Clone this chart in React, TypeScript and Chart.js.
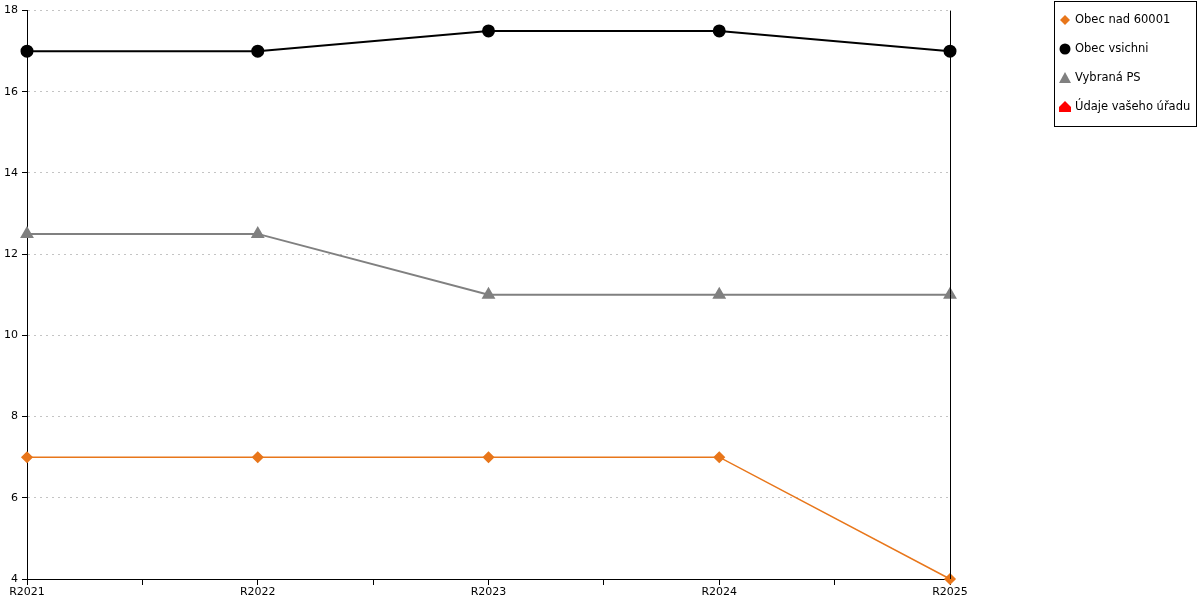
import React, { useEffect, useRef } from "react";
import { Chart, registerables } from "chart.js";

Chart.register(...registerables);

const categories = ["R2021", "R2022", "R2023", "R2024", "R2025"];
const obecNad60001 = [7, 7, 7, 7, 4];
const obecVsichni = [17, 17, 17.5, 17.5, 17];
const vybranaPS = [12.5, 12.5, 11, 11, 11];
const udajeUradu: (number | null)[] = [null, null, null, null, null];
const legendLabels = ["Obec nad 60001", "Obec vsichni", "Vybraná PS", "Údaje vašeho úřadu"];

const FONT = "'DejaVu Sans', Verdana, sans-serif";

function toPoints(vals: (number | null)[]) {
  return vals.map((v, i) => ({ x: i, y: v }));
}

const frame = {
  id: "frame",
  afterDatasetsDraw(chart: any) {
    const { ctx, chartArea } = chart;
    ctx.save();
    ctx.strokeStyle = "#000";
    ctx.lineWidth = 1;
    ctx.beginPath();
    ctx.moveTo(Math.round(chartArea.right) + 0.5, chartArea.top);
    ctx.lineTo(Math.round(chartArea.right) + 0.5, chartArea.bottom);
    ctx.stroke();
    ctx.restore();
  },
};

function drawMarker(ctx: CanvasRenderingContext2D, kind: string, cx: number, cy: number, color: string) {
  ctx.fillStyle = color;
  ctx.beginPath();
  if (kind === "diamond") {
    ctx.moveTo(cx, cy - 5);
    ctx.lineTo(cx + 5, cy);
    ctx.lineTo(cx, cy + 5);
    ctx.lineTo(cx - 5, cy);
  } else if (kind === "circle") {
    ctx.arc(cx, cy, 5.5, 0, Math.PI * 2);
  } else if (kind === "triangle") {
    ctx.moveTo(cx, cy - 6);
    ctx.lineTo(cx + 6, cy + 5);
    ctx.lineTo(cx - 6, cy + 5);
  } else {
    ctx.moveTo(cx - 6, cy + 5);
    ctx.lineTo(cx - 6, cy);
    ctx.lineTo(cx, cy - 6);
    ctx.lineTo(cx + 6, cy);
    ctx.lineTo(cx + 6, cy + 5);
  }
  ctx.closePath();
  ctx.fill();
}

const customLegend = {
  id: "customLegend",
  afterDraw(chart: any) {
    const { ctx } = chart;
    const kinds = ["diamond", "circle", "triangle", "house"];
    ctx.save();
    ctx.strokeStyle = "#000";
    ctx.lineWidth = 1;
    ctx.strokeRect(1054.5, 1.5, 142, 125);
    ctx.font = "11.5px " + FONT;
    ctx.textBaseline = "middle";
    ctx.textAlign = "left";
    chart.data.datasets.forEach((ds: any, i: number) => {
      const cy = 20 + i * 29;
      drawMarker(ctx, kinds[i], 1065, cy, ds.backgroundColor);
      ctx.fillStyle = "#000";
      ctx.fillText(legendLabels[i], 1075, cy);
    });
    ctx.restore();
  },
};

export default function App() {
  const ref = useRef<HTMLCanvasElement | null>(null);
  useEffect(() => {
    if (!ref.current) return;
    const chart = new Chart(ref.current, {
      type: "line",
      data: {
        datasets: [
          {
            label: legendLabels[0],
            data: toPoints(obecNad60001),
            borderColor: "#e8761a",
            backgroundColor: "#e8761a",
            borderWidth: 1.5,
            pointStyle: "rectRot",
            pointRadius: 5,
            clip: false,
          },
          {
            label: legendLabels[1],
            data: toPoints(obecVsichni),
            borderColor: "#000",
            backgroundColor: "#000",
            borderWidth: 2,
            pointStyle: "circle",
            pointRadius: 5.5,
            clip: false,
          },
          {
            label: legendLabels[2],
            data: toPoints(vybranaPS),
            borderColor: "#808080",
            backgroundColor: "#808080",
            borderWidth: 2,
            pointStyle: "triangle",
            pointRadius: 6,
            clip: false,
          },
          {
            label: legendLabels[3],
            data: toPoints(udajeUradu),
            borderColor: "#ff0000",
            backgroundColor: "#ff0000",
            borderWidth: 2,
            clip: false,
          },
        ] as any,
      },
      options: {
        animation: false,
        responsive: false,
        maintainAspectRatio: false,
        layout: { padding: { top: 10, right: 250, left: 0, bottom: 0 } },
        plugins: { legend: { display: false }, tooltip: { enabled: false } },
        elements: { line: { tension: 0 }, point: { borderWidth: 0 } },
        scales: {
          x: {
            type: "linear",
            min: 0,
            max: categories.length - 1,
            afterFit: (s: any) => { s.height = 21; },
            afterBuildTicks: (s: any) => {
              const t = [];
              for (let v = 0; v <= categories.length - 1 + 1e-9; v += 0.5) t.push({ value: v });
              s.ticks = t;
            },
            border: { color: "#000", width: 1 },
            grid: { drawOnChartArea: false, tickLength: 6, tickColor: "#000", drawTicks: true },
            ticks: {
              autoSkip: false,
              maxRotation: 0,
              padding: 1,
              color: "#000",
              font: { family: FONT, size: 11 },
              callback: (v: any) => (Number.isInteger(v) ? categories[v] : ""),
            },
          },
          y: {
            min: 4,
            max: 18,
            afterFit: (s: any) => { s.width = 27; },
            border: { color: "#000", width: 1, dash: [2, 4] },
            grid: {
              color: "#c4c4c4",
              tickColor: "#000",
              tickLength: 5,
              tickBorderDash: [],
            } as any,
            ticks: {
              stepSize: 2,
              padding: 4,
              color: "#000",
              font: { family: FONT, size: 11 },
            },
          },
        },
      },
      plugins: [frame, customLegend],
    } as any);
    return () => chart.destroy();
  }, []);
  return (
    <div style={{ position: "absolute", left: 0, top: 0, width: 1200, height: 600, background: "#fff" }}>
      <canvas ref={ref} width={1200} height={600} style={{ width: 1200, height: 600 }} />
    </div>
  );
}
